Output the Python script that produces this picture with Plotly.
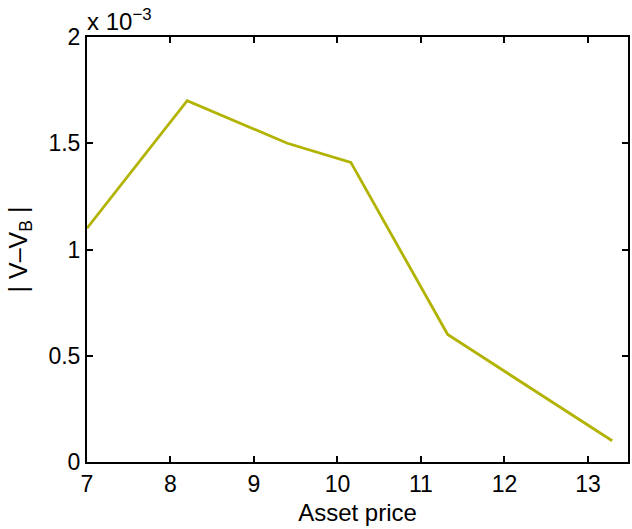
import plotly.graph_objects as go

asset_price = [7.0, 8.2, 9.4, 10.16, 11.32, 13.29]
abs_diff_e3 = [1.10, 1.70, 1.50, 1.41, 0.60, 0.10]  # in units of 1e-3

x_ticks = [7, 8, 9, 10, 11, 12, 13]
y_ticks = [0, 0.5, 1, 1.5, 2]
y_tick_text = ["0", "0.5", "1", "1.5", "2"]

FONT = "Liberation Sans, Arial, Helvetica, sans-serif"

fig = go.Figure()
fig.add_trace(go.Scatter(
    x=asset_price, y=abs_diff_e3, mode="lines",
    line=dict(color="#b2b300", width=2.8),
    showlegend=False,
))

axis_common = dict(
    showline=True, linecolor="black", linewidth=2, mirror="allticks",
    ticks="inside", ticklen=6, tickwidth=1.5, tickcolor="black",
    showgrid=False, zeroline=False, automargin=False,
    tickfont=dict(family=FONT, size=23, color="black"),
)

fig.update_layout(
    width=632, height=529, autosize=False,
    margin=dict(l=87, r=4, t=37, b=67),
    paper_bgcolor="white", plot_bgcolor="white",
    font=dict(family=FONT, color="black"),
    xaxis=dict(range=[7, 13.48], tickvals=x_ticks, **axis_common,
               title=dict(text="Asset price", font=dict(family=FONT, size=24), standoff=9)),
    yaxis=dict(range=[0, 2], tickvals=y_ticks, ticktext=y_tick_text, **axis_common,
               title=dict(text="| V\u2013V<sub>B</sub> |", font=dict(family=FONT, size=25), standoff=14)),
    annotations=[dict(
        x=0, y=1, xref="paper", yref="paper", xanchor="left", yanchor="bottom",
        xshift=-2, yshift=0, showarrow=False,
        text="x 10<sup>\u22123</sup>", font=dict(family=FONT, size=24, color="black"),
    )],
)

post = (
    "document.documentElement.style.margin='0';"
    "document.body.style.margin='0';"
    "document.body.style.padding='0';"
    "document.body.style.overflow='hidden';"
    "var gd=document.getElementById('{plot_id}');"
    "Plotly.relayout(gd,{width:632,height:529});"
)

fig.write_html("out.html", post_script=post,
               config={"responsive": False, "displayModeBar": False})
